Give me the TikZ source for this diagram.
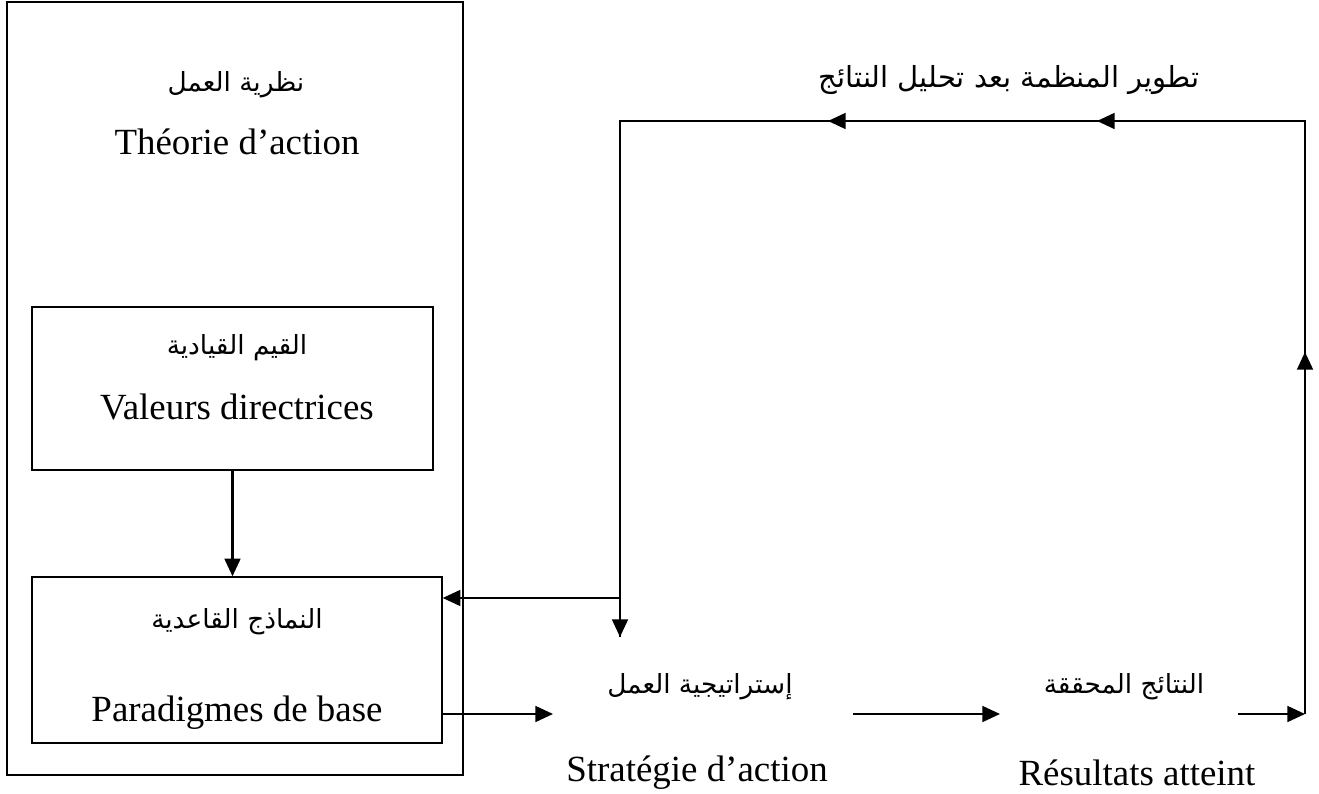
\documentclass[tikz,border=0pt]{standalone}
\usepackage{fontspec}
\setmainfont{Liberation Serif}
\newfontfamily\arabicfont[Script=Arabic]{DejaVu Sans}
\TeXXeTstate=1
\usetikzlibrary{arrows.meta,positioning}

\begin{document}
\begin{tikzpicture}[x=0.2mm, y=-0.2mm,
    box/.style={draw, line width=0.8pt, inner sep=0pt},
    fr/.style={font=\fontsize{21}{24}\selectfont},
    arb/.style={font=\fontsize{15}{18}\selectfont\arabicfont},
    line/.style={line width=1.2pt},
    flow/.style={line width=1.2pt, -{Triangle[length=10pt,width=9pt]}}]
  \useasboundingbox (0,0) rectangle (1319,794);
  % theory of action
  \node[box, minimum width=91.2mm, minimum height=154.6mm] (theory) at (235,388.5) {};
  \node[arb] (theoryar) at (236,85) {\beginR نظرية العمل\endR};
  \node[fr] (theoryfr) at (237,142) {Théorie d’action};
  \node[box, minimum width=80.2mm, minimum height=32.6mm] (values) at (232.5,388.5) {};
  \node[arb] (valuesar) at (237,348) {\beginR القيم القيادية\endR};
  \node[fr] (valuesfr) at (237,407) {Valeurs directrices};
  \node[box, minimum width=82mm, minimum height=33.2mm] (paradigms) at (237,660) {};
  \node[arb] (paradigmsar) at (237,622) {\beginR النماذج القاعدية\endR};
  \node[fr] (paradigmsfr) at (237,713) {Paradigmes de base};
  % strategy and results
  \node[arb] (strategyar) at (700,687) {\beginR إستراتيجية العمل\endR};
  \node[fr] (strategyfr) at (697,773) {Stratégie d’action};
  \node[arb] (resultsar) at (1124,687) {\beginR النتائج المحققة\endR};
  \node[fr] (resultsfr) at (1137,773) {Résultats atteint};
  \node[arb, font=\fontsize{16.5}{20}\selectfont\arabicfont] (feedback) at (1009,80) {\beginR تطوير المنظمة بعد تحليل النتائج\endR};
  % connectors
  \coordinate (stratin) at (553,714);
  \coordinate (stratout) at (853,714);
  \coordinate (resin) at (1000,714);
  \coordinate (resout) at (1238,714);
  \coordinate (loop) at (1305,714);
  \coordinate (upmid) at (1305,352);
  \coordinate (ne) at (1305,121);
  \coordinate (topmid) at (1097,121);
  \coordinate (topleft) at (828,121);
  \coordinate (nw) at (620,121);
  \coordinate (fork) at (620,598);
  \coordinate (stratdown) at (620,637);
  \draw[flow] (values.south) -- (values.south |- paradigms.north);
  \draw[flow] (paradigms.east |- stratin) -- (stratin);
  \draw[flow] (stratout) -- (resin);
  \draw[flow] (resout) -- (loop);
  \draw[line] (loop) -- (ne) -- (nw) -- (stratdown);
  \draw[flow] (loop) -- (upmid);
  \draw[flow] (ne) -- (topmid);
  \draw[flow] (ne) -- (topleft);
  \draw[flow] (nw) -- (stratdown);
  \draw[flow] (fork) -- (paradigms.east |- fork);
\end{tikzpicture}
\end{document}
